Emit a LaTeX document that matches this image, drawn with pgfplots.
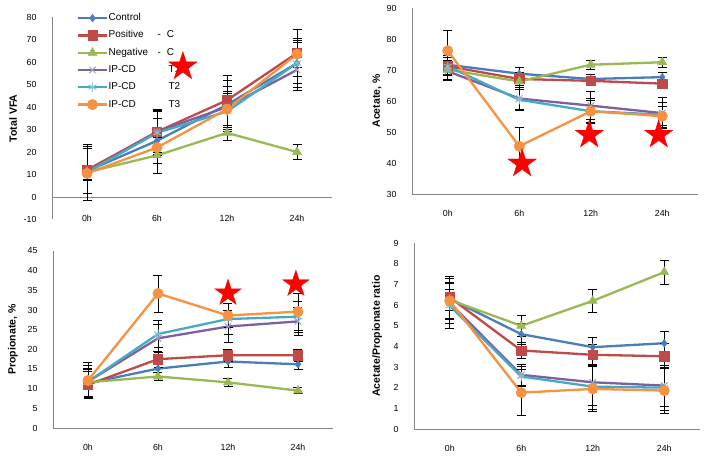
\documentclass[border=0pt]{standalone}
\usepackage{pgfplots}
\pgfplotsset{compat=1.18}
\usepackage{fontspec}
\setmainfont{Liberation Sans}
\definecolor{cBlue}{HTML}{4A7EBB}
\definecolor{cRed}{HTML}{BE4B48}
\definecolor{cGreen}{HTML}{98B954}
\definecolor{cPurple}{HTML}{7D60A0}
\definecolor{cTeal}{HTML}{46AAC5}
\definecolor{cOrange}{HTML}{F69240}
\definecolor{axgray}{HTML}{868686}
\pgfdeclareplotmark{fstar}{%
  \pgfpathmoveto{\pgfpointpolar{90}{\pgfplotmarksize}}%
  \pgfpathlineto{\pgfpointpolar{126}{0.382\pgfplotmarksize}}%
  \pgfpathlineto{\pgfpointpolar{162}{\pgfplotmarksize}}%
  \pgfpathlineto{\pgfpointpolar{198}{0.382\pgfplotmarksize}}%
  \pgfpathlineto{\pgfpointpolar{234}{\pgfplotmarksize}}%
  \pgfpathlineto{\pgfpointpolar{270}{0.382\pgfplotmarksize}}%
  \pgfpathlineto{\pgfpointpolar{306}{\pgfplotmarksize}}%
  \pgfpathlineto{\pgfpointpolar{342}{0.382\pgfplotmarksize}}%
  \pgfpathlineto{\pgfpointpolar{18}{\pgfplotmarksize}}%
  \pgfpathlineto{\pgfpointpolar{54}{0.382\pgfplotmarksize}}%
  \pgfpathclose
  \pgfusepathqfillstroke
}
\pgfplotsset{
  base/.style={scale only axis, anchor=south west, clip=false,
    xmin=-0.5, xmax=3.5, xtick={0,1,2,3}, xticklabels={0h,6h,12h,24h},
    axis x line*=bottom, axis y line*=left,
    axis line style={draw=axgray, line width=0.8pt, -},
    major tick length=0pt, tick style={draw=none},
    ticklabel style={font=\fontsize{8.8}{10}\selectfont},
    yticklabel style={anchor=east, xshift=-12pt},
    xticklabel style={anchor=center, yshift=-19pt},
    /pgf/number format/assume math mode=true,
    ylabel style={font=\bfseries\fontsize{10.5}{12}\selectfont, anchor=center},
  },
  eb/.style={error bars/.cd, y dir=both, y explicit,
    error bar style={black, line width=0.8pt, solid},
    error mark options={rotate=90, black, mark size=4.5pt, line width=0.8pt}},
  sCtrl/.style={cBlue, line width=2.3pt, mark=diamond*, mark size=3.8pt, mark options={fill=cBlue, line width=0.5pt}, eb},
  sPos/.style={cRed, line width=2.3pt, mark=square*, mark size=4.7pt, mark options={fill=cRed, line width=0.5pt}, eb},
  sNeg/.style={cGreen, line width=2.3pt, mark=triangle*, mark size=5.2pt, mark options={fill=cGreen, line width=0.5pt}, eb},
  sT1/.style={cPurple, line width=2.3pt, mark=x, mark size=4.5pt, mark options={draw=cBlue!45!gray!70!white, line width=1pt}, eb},
  sT2/.style={cTeal, line width=2.3pt, mark=asterisk, mark size=4.5pt, mark options={draw=cTeal!70!white, line width=1pt}, eb},
  sT3/.style={cOrange, line width=2.3pt, mark=*, mark size=5.2pt, mark options={fill=cOrange, line width=0.5pt}, eb},
  sStar/.style={only marks, mark=fstar, mark size=15pt, mark options={fill=red, draw=red, line width=0.3pt}, forget plot},
}
\begin{document}
\begin{tikzpicture}
\useasboundingbox (0,0) rectangle (705pt,456pt);
% ---------- Panel 1: Total VFA ----------
\begin{axis}[base, at={(52pt,236.5pt)}, width=280pt, height=202.5pt,
  ymin=-10, ymax=80, ytick={-10,0,10,20,30,40,50,60,70,80},
  x axis line style={draw=none},
  xticklabel style={yshift=20.5pt},
  ylabel={Total VFA}, ylabel style={at={(axis description cs:-0.139,0.5)}},
  legend style={at={(axis description cs:0.088,1.02)}, anchor=north west, draw=none, fill=none,
    font=\fontsize{10}{11}\selectfont, nodes={inner sep=0.5pt, text height=7pt, text depth=2pt},
    row sep=7.2pt, inner sep=0pt},
  legend cell align=left,
  legend image code/.code={\draw[mark repeat=2, mark phase=2] plot coordinates {(0pt,0pt) (14.5pt,0pt) (29pt,0pt)};}]
\addplot[axgray, line width=0.8pt, forget plot] coordinates {(-0.5,0) (3.5,0)};
\addplot[sCtrl] coordinates {(0,11.5) +- (0,10) (1,25) +- (0,10) (2,41) +- (0,11) (3,59.5) +- (0,9)};
\addplot[sPos] coordinates {(0,12) +- (0,10.5) (1,29) +- (0,10) (2,43) +- (0,11) (3,64) +- (0,10.5)};
\addplot[sNeg] coordinates {(0,11) +- (0,12.5) (1,18.5) +- (0,8) (2,28.5) +- (0,3.5) (3,20) +- (0,3.5)};
\addplot[sT1] coordinates {(0,11) +- (0,3) (1,29) +- (0,9) (2,40) +- (0,9) (3,56.5) +- (0,9)};
\addplot[sT2] coordinates {(0,11) +- (0,3) (1,28.5) +- (0,10) (2,38) +- (0,9) (3,59.5) +- (0,11)};
\addplot[sT3] coordinates {(0,10.5) +- (0,3) (1,22) +- (0,7) (2,39) +- (0,7) (3,63.5) +- (0,6)};
\legend{Control, \makebox[49pt][l]{Positive}-\hspace{6pt}C, \makebox[49pt][l]{Negative}-\hspace{6pt}C, \makebox[60pt][l]{IP-CD}T1, \makebox[60pt][l]{IP-CD}T2, \makebox[60pt][l]{IP-CD}T3}
\end{axis}
\begin{axis}[base, at={(52pt,236.5pt)}, width=280pt, height=202.5pt, ymin=-10, ymax=80, hide axis]
\addplot[sStar] coordinates {(1.37,58)};
\end{axis}
% ---------- Panel 2: Acetate ----------
\begin{axis}[base, at={(412pt,262pt)}, width=286pt, height=186pt,
  ymin=30, ymax=90, ytick={30,40,...,90},
  ylabel={Acetate, \%}, ylabel style={at={(axis description cs:-0.122,0.5)}}]
\addplot[sCtrl] coordinates {(0,71.7) +- (0,3) (1,68.8) +- (0,2) (2,67.1) +- (0,1.5) (3,67.7) +- (0,1.5)};
\addplot[sPos] coordinates {(0,71.2) +- (0,3) (1,67.1) +- (0,2) (2,66.5) +- (0,1.5) (3,65.6) +- (0,1.5)};
\addplot[sNeg] coordinates {(0,70.1) +- (0,3) (1,66.3) +- (0,2) (2,71.7) +- (0,1.5) (3,72.5) +- (0,1.5)};
\addplot[sT1] coordinates {(0,69.6) +- (0,3) (1,60.8) +- (0,3.5) (2,58.5) +- (0,4.5) (3,56.1) +- (0,5)};
\addplot[sT2] coordinates {(0,71.2) +- (0,3) (1,60.4) +- (0,3.5) (2,56.7) +- (0,4) (3,55.6) +- (0,4)};
\addplot[sT3] coordinates {(0,76.2) +- (0,6.5) (1,45.4) +- (0,6) (2,56.7) +- (0,3.5) (3,55.1) +- (0,3)};
\addplot[sStar] coordinates {(1.04,39.8) (1.98,49.1) (2.95,49.1)};
\end{axis}
% ---------- Panel 3: Propionate ----------
\begin{axis}[base, at={(53pt,28pt)}, width=280pt, height=177pt,
  ymin=0, ymax=45, ytick={0,5,...,45},
  ylabel={Propionate, \%}, ylabel style={at={(axis description cs:-0.143,0.5)}}]
\addplot[sCtrl] coordinates {(0,11.4) +- (0,3.5) (1,15.1) +- (0,2) (2,16.9) +- (0,1.5) (3,16.2) +- (0,1.4)};
\addplot[sPos] coordinates {(0,11.0) +- (0,3.5) (1,17.5) +- (0,2) (2,18.5) +- (0,1.5) (3,18.5) +- (0,1.6)};
\addplot[sNeg] coordinates {(0,11.6) +- (0,3.5) (1,13.1) +- (0,1) (2,11.6) +- (0,1) (3,9.5) +- (0,0.8)};
\addplot[sT1] coordinates {(0,11.8) +- (0,4) (1,22.8) +- (0,3.5) (2,25.8) +- (0,4) (3,27.1) +- (0,3.5)};
\addplot[sT2] coordinates {(0,11.8) +- (0,4) (1,23.9) +- (0,3.5) (2,27.7) +- (0,4) (3,28.3) +- (0,4)};
\addplot[sT3] coordinates {(0,12.1) +- (0,4.7) (1,34.2) +- (0,4.7) (2,28.6) +- (0,3) (3,29.6) +- (0,4.7)};
\addplot[sStar, mark size=14pt] coordinates {(2.0,34.3) (2.97,36.6)};
\end{axis}
% ---------- Panel 4: Acetate/Propionate ----------
\begin{axis}[base, at={(414pt,27pt)}, width=286pt, height=186pt,
  ymin=0, ymax=9, ytick={0,1,...,9},
  ylabel={Acetate/Propionate ratio}, ylabel style={at={(axis description cs:-0.129,0.5)}}]
\addplot[sCtrl] coordinates {(0,6.3) +- (0,1) (1,4.59) +- (0,0.5) (2,3.96) +- (0,0.45) (3,4.15) +- (0,0.55)};
\addplot[sPos] coordinates {(0,6.37) +- (0,1) (1,3.8) +- (0,0.4) (2,3.59) +- (0,0.5) (3,3.52) +- (0,0.6)};
\addplot[sNeg] coordinates {(0,6.25) +- (0,0.5) (1,4.99) +- (0,0.5) (2,6.2) +- (0,0.55) (3,7.59) +- (0,0.57)};
\addplot[sT1] coordinates {(0,6.1) +- (0,1) (1,2.62) +- (0,0.5) (2,2.26) +- (0,1.1) (3,2.1) +- (0,1)};
\addplot[sT2] coordinates {(0,5.96) +- (0,1.1) (1,2.54) +- (0,0.5) (2,2.05) +- (0,1.1) (3,2.0) +- (0,1.1)};
\addplot[sT3] coordinates {(0,6.2) +- (0,1.1) (1,1.76) +- (0,1.1) (2,1.94) +- (0,1.1) (3,1.86) +- (0,1.1)};
\end{axis}
\end{tikzpicture}
\end{document}
